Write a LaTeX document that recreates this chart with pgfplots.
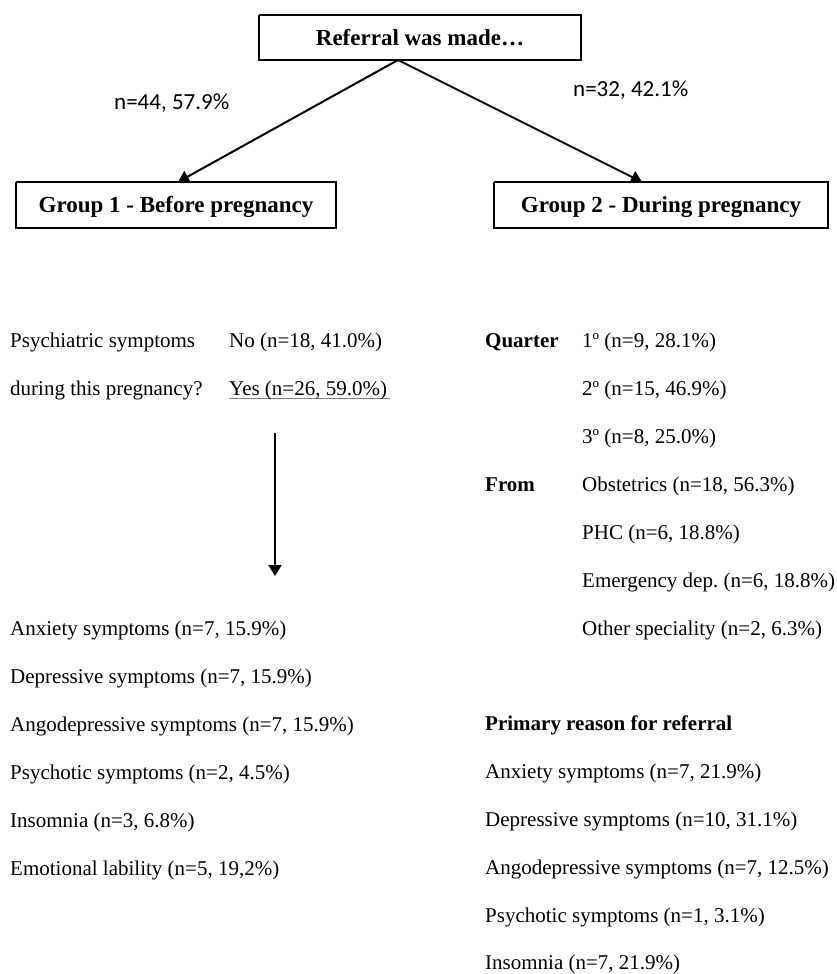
\documentclass[border=0pt]{standalone}
\usepackage{pgfplots}
\pgfplotsset{compat=1.18}
\usetikzlibrary{arrows.meta}
\usepackage{fontspec}
\setmainfont{Liberation Serif}
\newfontfamily\sansf{Carlito}
\frenchspacing
\begin{document}
\begin{tikzpicture}
\begin{axis}[
  width=837bp, height=974bp, scale only axis,
  xmin=0, xmax=837, ymin=0, ymax=974, y dir=reverse,
  hide axis, clip=false,
]
% boxes
\addplot[black, line width=1.4bp] coordinates {(259,15) (581,15) (581,60) (259,60) (259,15)};
\addplot[black, line width=1.4bp] coordinates {(16,182) (336,182) (336,228) (16,228) (16,182)};
\addplot[black, line width=1.4bp] coordinates {(494,182) (828,182) (828,228) (494,228) (494,182)};
% arrows
\addplot[black, line width=2bp, -{Triangle[width=13bp,length=11bp]}] coordinates {(398,60) (178,182)};
\addplot[black, line width=2bp, -{Triangle[width=13bp,length=11bp]}] coordinates {(398,60) (642,182)};
\addplot[black, line width=2bp, -{Triangle[width=13bp,length=11bp]}] coordinates {(275,433) (275,576)};
% underline
\addplot[gray, line width=0.9bp] coordinates {(229,398) (390,398)};

\def\fs{\fontsize{21bp}{24bp}\selectfont}
\def\fb{\fontsize{23bp}{26bp}\selectfont\bfseries}
\node[anchor=base, inner sep=0pt] at (axis cs:420,46) {\fb Referral was made\ldots};
\node[anchor=base, inner sep=0pt] at (axis cs:176,212) {\fb Group 1 - Before pregnancy};
\node[anchor=base, inner sep=0pt] at (axis cs:661,212) {\fb Group 2 - During pregnancy};
\node[anchor=base west, inner sep=0pt] at (axis cs:114,110) {\sansf\fontsize{23bp}{26bp}\selectfont n=44, 57.9\%};
\node[anchor=base west, inner sep=0pt] at (axis cs:573,97) {\sansf\fontsize{23bp}{26bp}\selectfont n=32, 42.1\%};

% left block
\node[anchor=base west, inner sep=0pt] at (axis cs:10,347) {\fs Psychiatric symptoms};
\node[anchor=base west, inner sep=0pt] at (axis cs:10,395) {\fs during this pregnancy?};
\node[anchor=base west, inner sep=0pt] at (axis cs:229,347) {\fs No (n=18, 41.0\%)};
\node[anchor=base west, inner sep=0pt] at (axis cs:229,395) {\fs Yes (n=26, 59.0\%)};

\node[anchor=base west, inner sep=0pt] at (axis cs:10,635) {\fs Anxiety symptoms (n=7, 15.9\%)};
\node[anchor=base west, inner sep=0pt] at (axis cs:10,683) {\fs Depressive symptoms (n=7, 15.9\%)};
\node[anchor=base west, inner sep=0pt] at (axis cs:10,731) {\fs Angodepressive symptoms (n=7, 15.9\%)};
\node[anchor=base west, inner sep=0pt] at (axis cs:10,779) {\fs Psychotic symptoms (n=2, 4.5\%)};
\node[anchor=base west, inner sep=0pt] at (axis cs:10,827) {\fs Insomnia (n=3, 6.8\%)};
\node[anchor=base west, inner sep=0pt] at (axis cs:10,875) {\fs Emotional lability (n=5, 19,2\%)};

% right block
\node[anchor=base west, inner sep=0pt] at (axis cs:485,347) {\fs\bfseries Quarter};
\node[anchor=base west, inner sep=0pt] at (axis cs:485,491) {\fs\bfseries From};
\node[anchor=base west, inner sep=0pt] at (axis cs:582,347) {\fs 1º (n=9, 28.1\%)};
\node[anchor=base west, inner sep=0pt] at (axis cs:582,395) {\fs 2º (n=15, 46.9\%)};
\node[anchor=base west, inner sep=0pt] at (axis cs:582,443) {\fs 3º (n=8, 25.0\%)};
\node[anchor=base west, inner sep=0pt] at (axis cs:582,491) {\fs Obstetrics (n=18, 56.3\%)};
\node[anchor=base west, inner sep=0pt] at (axis cs:582,539) {\fs PHC (n=6, 18.8\%)};
\node[anchor=base west, inner sep=0pt] at (axis cs:582,587) {\fs Emergency dep. (n=6, 18.8\%)};
\node[anchor=base west, inner sep=0pt] at (axis cs:582,635) {\fs Other speciality (n=2, 6.3\%)};

\node[anchor=base west, inner sep=0pt] at (axis cs:485,730) {\fs\bfseries Primary reason for referral};
\node[anchor=base west, inner sep=0pt] at (axis cs:485,778) {\fs Anxiety symptoms (n=7, 21.9\%)};
\node[anchor=base west, inner sep=0pt] at (axis cs:485,826) {\fs Depressive symptoms (n=10, 31.1\%)};
\node[anchor=base west, inner sep=0pt] at (axis cs:485,874) {\fs Angodepressive symptoms (n=7, 12.5\%)};
\node[anchor=base west, inner sep=0pt] at (axis cs:485,922) {\fs Psychotic symptoms (n=1, 3.1\%)};
\node[anchor=base west, inner sep=0pt] at (axis cs:485,969) {\fs Insomnia (n=7, 21.9\%)};
\end{axis}
\path[use as bounding box] (current axis.south west) rectangle (current axis.north east);
\end{tikzpicture}
\end{document}
